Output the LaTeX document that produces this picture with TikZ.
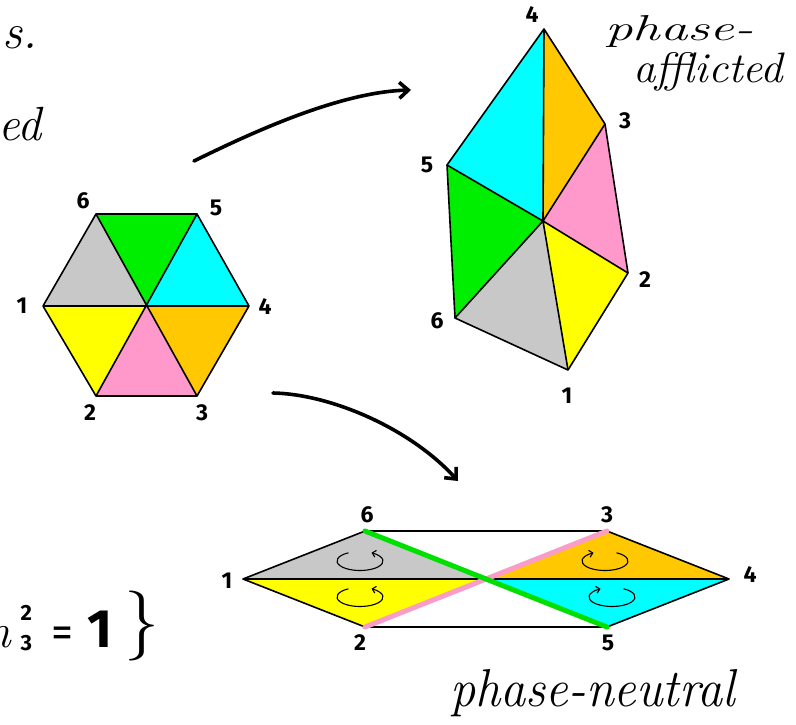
\documentclass[tikz,border=0pt]{standalone}
\usepackage{fontspec}
\usepackage{graphicx}
\usetikzlibrary{arrows.meta}
\newfontfamily\lblfont{Fira Sans}
\definecolor{cgray}{HTML}{C8C8C8}
\definecolor{cgreen}{HTML}{00EE00}
\definecolor{ccyan}{HTML}{00FFFF}
\definecolor{corange}{HTML}{FFC800}
\definecolor{cpink}{HTML}{FF99CC}
\definecolor{cyellow}{HTML}{FFFF00}
\definecolor{lgreen}{HTML}{00E000}
\definecolor{lpink}{HTML}{FA9CC8}
\begin{document}
\begin{tikzpicture}[x=1pt,y=-1pt,
  lbl/.style={font=\lblfont\bfseries\fontsize{23}{26}\selectfont, inner sep=0pt},
  hand/.style={font=\itshape\fontsize{40}{44}\selectfont, inner sep=0pt},
  edge/.style={line width=1.6pt, line join=round, draw=black},
  thinedge/.style={line width=1.3pt, draw=black},
  fatline/.style={line width=5pt, line cap=round},
  bigarrow/.style={line width=3.6pt, line cap=round, -{Straight Barb[length=9pt,width=16pt]}},
  cyc/.style={line width=1.1pt, -{Straight Barb[length=3.5pt,width=7pt]}}]
\useasboundingbox (0,0) rectangle (796,724);
\clip (0,0) rectangle (796,724);

% ---------- left hexagon ----------
\coordinate (h1) at (43,306);
\coordinate (h2) at (96,396);
\coordinate (h3) at (197,396);
\coordinate (h4) at (249,306);
\coordinate (h5) at (197,214);
\coordinate (h6) at (96,214);
\coordinate (hc) at (146,306);
\fill[cgray] (h1)--(h6)--(hc)--cycle;
\fill[cgreen] (h6)--(h5)--(hc)--cycle;
\fill[ccyan] (h5)--(h4)--(hc)--cycle;
\fill[corange] (h4)--(h3)--(hc)--cycle;
\fill[cpink] (h3)--(h2)--(hc)--cycle;
\fill[cyellow] (h2)--(h1)--(hc)--cycle;
\draw[edge] (h1)--(h2)--(h3)--(h4)--(h5)--(h6)--cycle;
\draw[edge] (h1)--(h4) (h6)--(h3) (h5)--(h2);
\node[lbl] (lh1) at (22,306) {1};
\node[lbl] (lh2) at (90,413) {2};
\node[lbl] (lh3) at (202,413) {3};
\node[lbl] (lh4) at (265,307) {4};
\node[lbl] (lh5) at (216,208) {5};
\node[lbl] (lh6) at (83,201) {6};

% ---------- phase-afflicted ----------
\coordinate (p1) at (568,370);
\coordinate (p2) at (628,273);
\coordinate (p3) at (605,124);
\coordinate (p4) at (544,29);
\coordinate (p5) at (447,165);
\coordinate (p6) at (455,318);
\coordinate (pc) at (543,221);
\fill[ccyan] (p4)--(p5)--(pc)--cycle;
\fill[corange] (p4)--(p3)--(pc)--cycle;
\fill[cpink] (p3)--(p2)--(pc)--cycle;
\fill[cyellow] (p2)--(p1)--(pc)--cycle;
\fill[cgray] (p1)--(p6)--(pc)--cycle;
\fill[cgreen] (p6)--(p5)--(pc)--cycle;
\draw[edge] (p1)--(p2)--(p3)--(p4)--(p5)--(p6)--cycle;
\draw[edge] (pc)--(p1) (pc)--(p2) (pc)--(p3) (pc)--(p4) (pc)--(p5) (pc)--(p6);
\node[lbl] (lp1) at (567,396) {1};
\node[lbl] (lp2) at (645,280) {2};
\node[lbl] (lp3) at (625,121) {3};
\node[lbl] (lp4) at (532,15) {4};
\node[lbl] (lp5) at (427,165) {5};
\node[lbl] (lp6) at (437,321) {6};

% ---------- phase-neutral ----------
\coordinate (b1) at (243,579);
\coordinate (b6) at (365,531);
\coordinate (b3) at (607,531);
\coordinate (b4) at (729,579);
\coordinate (b5) at (607,627);
\coordinate (b2) at (365,627);
\coordinate (bx) at (486,579);
\fill[cgray] (b1)--(b6)--(bx)--cycle;
\fill[cyellow] (b1)--(b2)--(bx)--cycle;
\fill[corange] (bx)--(b3)--(b4)--cycle;
\fill[ccyan] (bx)--(b5)--(b4)--cycle;
\draw[thinedge] (b6)--(b3) (b2)--(b5);
\draw[edge] (b2)--(b1)--(b6) (b3)--(b4)--(b5) (b1)--(b4);
\draw[fatline, lpink] (b2)--(b3);
\draw[fatline, lgreen] (b6)--(b5);
\draw[cyc] (360,561) ++(120:23pt and 9.5pt) arc[start angle=120, end angle=420, x radius=23pt, y radius=9.5pt];
\draw[cyc] (360,597) ++(120:23pt and 9.5pt) arc[start angle=120, end angle=420, x radius=23pt, y radius=9.5pt];
\draw[cyc] (605,561) ++(60:23pt and 9.5pt) arc[start angle=60, end angle=-240, x radius=23pt, y radius=9.5pt];
\draw[cyc] (612,597) ++(60:23pt and 9.5pt) arc[start angle=60, end angle=-240, x radius=23pt, y radius=9.5pt];
\node[lbl] (lb1) at (227,581) {1};
\node[lbl] (lb2) at (360,643) {2};
\node[lbl] (lb3) at (607,515) {3};
\node[lbl] (lb4) at (750,575) {4};
\node[lbl] (lb5) at (608,643) {5};
\node[lbl] (lb6) at (367,515) {6};

% ---------- arrows ----------
\coordinate (a1s) at (194,161);
\coordinate (a1e) at (411,90);
\draw[bigarrow] (a1s) .. controls (253,132) and (340,92) .. (a1e);
\coordinate (a2s) at (273,393);
\coordinate (a2e) at (458,481);
\draw[bigarrow] (a2s) .. controls (330,394) and (410,428) .. (a2e);

% ---------- texts ----------
\node[hand, anchor=base west] (tpa) at (605,40) {\resizebox{148pt}{25pt}{phase-}};
\node[hand, anchor=base west] (taf) at (633,82) {\resizebox{150pt}{30pt}{afflicted}};
\node[hand, anchor=base west] (tpn) at (450,706) {\resizebox{285pt}{37pt}{phase-neutral}};
\node[hand, font=\itshape\fontsize{50}{54}\selectfont, anchor=base east] (ts) at (38,48) {s.};
\node[hand, font=\itshape\fontsize{48}{52}\selectfont, anchor=base east] (ted) at (42,140) {ed};
\node[anchor=base west, inner sep=0pt] (teq) at (-16,647) {\fontsize{48}{50}\selectfont\itshape n\upshape\kern10pt\rlap{\raisebox{27pt}{\lblfont\bfseries\fontsize{22}{24}\selectfont 2}}\raisebox{-3pt}{\lblfont\bfseries\fontsize{22}{24}\selectfont 3}\kern19pt{\lblfont\fontsize{44}{48}\selectfont =}\kern14pt{\lblfont\bfseries\fontsize{54}{56}\selectfont 1}\kern12pt\raisebox{4pt}{\fontsize{70}{72}\selectfont\}}};
\end{tikzpicture}
\end{document}
